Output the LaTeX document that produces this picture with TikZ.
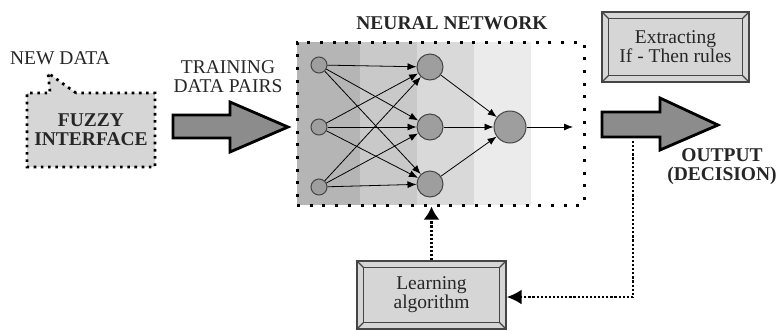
\documentclass[tikz,border=0pt]{standalone}
\usepackage{fontspec}
\setmainfont{Liberation Serif}
\usetikzlibrary{arrows.meta,calc,shapes.callouts,positioning}

\definecolor{bandA}{gray}{0.71}
\definecolor{bandB}{gray}{0.79}
\definecolor{bandC}{gray}{0.85}
\definecolor{bandD}{gray}{0.92}
\definecolor{boxgray}{gray}{0.84}
\definecolor{neurongray}{gray}{0.62}
\definecolor{arrowgray}{gray}{0.55}
\definecolor{edgegray}{gray}{0.27}

\newcommand{\figfont}{\fontsize{19.5}{19}\selectfont}

\tikzset{
    neuron/.style = {circle,
                    fill=neurongray,
                    draw=edgegray,
                    line width=1pt,
                    inner sep=0pt},
    fuzzy/.style =  {rectangle callout,
                    fill=boxgray,
                    draw=black,
                    line width=2.7pt,
                    dash pattern=on 2.6pt off 4.6pt,
                    align=center,
                    font=\figfont\bfseries,
                    text=black!85,
                    callout pointer width=26pt},
    nnbox/.style =  {rectangle,
                    draw=black,
                    line width=3pt,
                    dash pattern=on 3pt off 9.7pt},
    bevelbox/.style = {rectangle,
                    fill=boxgray,
                    draw=edgegray,
                    line width=1.2pt,
                    align=center,
                    text=black!85},
    bevelline/.style = {draw=edgegray, line width=1.2pt},
    bigarrow/.style = {fill=arrowgray,
                    draw=black,
                    line width=2.8pt,
                    line join=miter},
    feedback/.style = {line width=2.6pt,
                    dash pattern=on 2.2pt off 1.9pt},
    label/.style =  {inner sep=0pt, align=center, text=black!85},
    boldlabel/.style = {label, font=\figfont\bfseries},
    link/.style =   {-{Latex[length=9pt,width=7pt]}, line width=0.8pt}
}

\newcommand{\bevel}[1]{%
    \draw[bevelline] ($(#1.north west)+(7,7)$) rectangle ($(#1.south east)+(-7,-7)$);
    \draw[bevelline] (#1.north west) -- ++(7,7)
                     (#1.north east) -- ++(-7,7)
                     (#1.south west) -- ++(7,-7)
                     (#1.south east) -- ++(-7,-7);}

\begin{document}
\begin{tikzpicture}[x=1pt,y=-1pt,font=\figfont]
    \useasboundingbox (0,0) rectangle (778,330);

    % fuzzy interface
    \node[label] (newdata) at (60,58) {NEW DATA};
    \node[fuzzy, minimum width=128pt, minimum height=74pt,
          callout absolute pointer={(48,73)}] (fuzzy) at (91,130) {FUZZY\\INTERFACE};

    % training data arrow
    \node[label] (pairs) at (228,77) {TRAINING\\DATA PAIRS};
    \draw[bigarrow] (173,115) -- (230,115) -- (230,102) -- (288,127)
                    -- (230,152) -- (230,138) -- (173,138) -- cycle;

    % neural network
    \foreach \xa/\xb/\col in {297/360/bandA, 360/417/bandB, 417/474/bandC, 474/531/bandD}
        \fill[\col] (\xa,42) rectangle (\xb,205);
    \node[nnbox, minimum width=287pt, minimum height=163pt] (nn) at (440.5,123.5) {};
    \node[boldlabel] (nntitle) at (452,23) {NEURAL NETWORK};

    \foreach \n/\y in {1/65, 2/127, 3/187}
        \node[neuron, minimum size=16pt] (i\n) at (319,\y) {};
    \foreach \n/\y in {1/67, 2/127, 3/184}
        \node[neuron, minimum size=26pt] (h\n) at (430,\y) {};
    \node[neuron, minimum size=32pt] (o) at (510,127) {};
    \coordinate (nnout) at (573,127);

    \foreach \a in {1,2,3}
        \foreach \b in {1,2,3}
            \draw[link] (i\a) -- (h\b);
    \foreach \b in {1,2,3}
        \draw[link] (h\b) -- (o);
    \draw[link] (o) -- (nnout);

    % output
    \draw[bigarrow] (602,112) -- (660,112) -- (660,98) -- (718,125)
                    -- (660,150) -- (660,137) -- (602,137) -- cycle;
    \node[boldlabel] (output) at (722,167) {OUTPUT\\(DECISION)};

    % rules and learning
    \node[bevelbox, minimum width=147pt, minimum height=70pt] (rules) at (675.5,47) {Extracting\\If - Then rules};
    \bevel{rules}
    \node[bevelbox, minimum width=149pt, minimum height=68pt] (learn) at (431.5,295) {Learning\\algorithm};
    \bevel{learn}

    \coordinate (fbtop) at (633,141);
    \coordinate (fbcorner) at (633,297);
    \draw[feedback] (fbtop) -- (fbcorner);
    \draw[feedback, -{Latex[length=15pt,width=15pt]}] (fbcorner) -- (learn.east |- fbcorner);
    \draw[feedback, -{Latex[length=13pt,width=16pt]}] (learn.north) -- (learn.north |- nn.south);
\end{tikzpicture}
\end{document}
